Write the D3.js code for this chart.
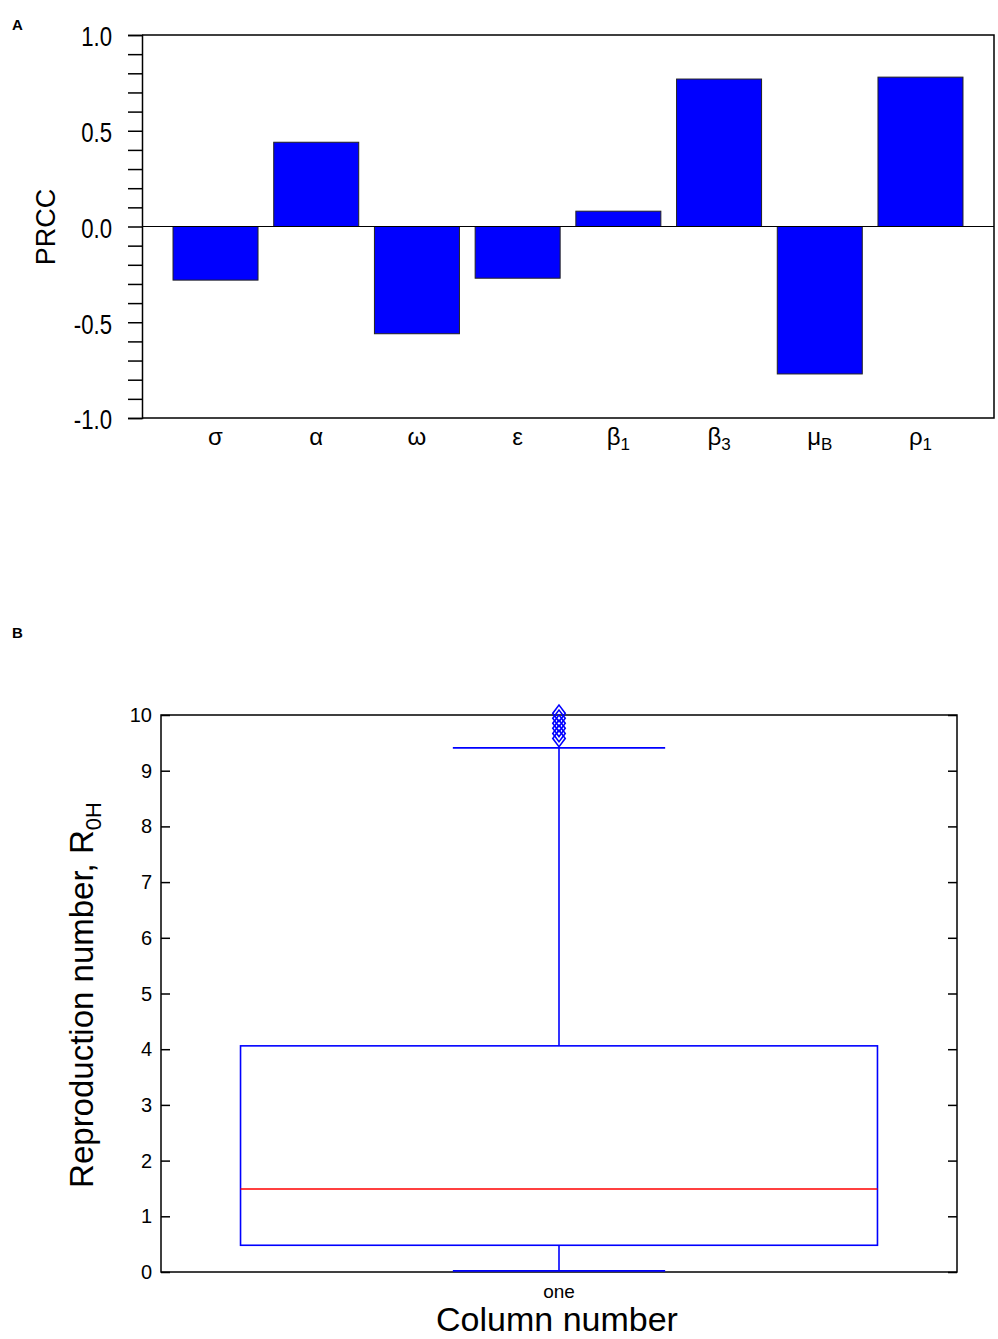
<!DOCTYPE html>
<html>

<head>
  <meta charset="utf-8" />
  <title>PRCC and R0H</title>
  <style>
    body {
      margin: 0;
      background: #fff;
    }

    svg text {
      font-family: Arial, "Liberation Sans", sans-serif;
      fill: #000;
    }
  </style>
  <script src="https://cdnjs.cloudflare.com/ajax/libs/d3/7.8.5/d3.min.js"></script>
</head>

<body>
  <div id="chartArea"></div>
  <script>
    // panel A: PRCC values
    var params = ['σ', 'α', 'ω', 'ε', 'β', 'β', 'μ', 'ρ'];
    var paramSubs = ['', '', '', '', '1', '3', 'B', '1'];
    var prcc = [-0.28, 0.44, -0.56, -0.27, 0.08, 0.77, -0.77, 0.78];
    var prccTicks = [-1.0, -0.5, 0.0, 0.5, 1.0];

    // panel B: box plot of R0H
    var boxCategory = ['one'];
    var boxStats = [0.02, 0.48, 1.49, 4.06, 9.41]; // lower whisker, q1, median, q3, upper whisker
    var outliers = [9.58, 9.67, 9.76, 9.85, 9.94, 10.03];
    var r0Ticks = [0, 1, 2, 3, 4, 5, 6, 7, 8, 9, 10];

    var w = 998,
      h = 1339;

    var svg = d3.select('#chartArea').append('svg')
      .attr('width', w)
      .attr('height', h);

    // ---------- panel A ----------
    var a = { left: 142, right: 994, top: 35, bottom: 418 };

    var xA = d3.scaleBand()
      .domain(d3.range(params.length))
      .range([a.left, a.right])
      .paddingInner(0.156)
      .paddingOuter(0.308);

    var yA = d3.scaleLinear()
      .domain([-1, 1])
      .range([a.bottom, a.top]);

    svg.append('text')
      .attr('x', 12)
      .attr('y', 30)
      .style('font-weight', 'bold')
      .style('font-size', '15px')
      .text('A');

    // frame
    svg.append('path')
      .attr('d', 'M' + a.left + ',' + a.top + 'H' + a.right + 'V' + a.bottom + 'H' + a.left)
      .attr('fill', 'none')
      .attr('stroke', '#000')
      .attr('stroke-width', 1.5);

    svg.selectAll('rect.bar')
      .data(prcc)
      .enter()
      .append('rect')
      .attr('class', 'bar')
      .attr('x', (d, i) => xA(i))
      .attr('y', d => yA(Math.max(0, d)))
      .attr('width', xA.bandwidth())
      .attr('height', d => Math.abs(yA(d) - yA(0)))
      .attr('fill', '#0000ff')
      .attr('stroke', '#222')
      .attr('stroke-width', 1);

    // zero line
    svg.append('line')
      .attr('x1', a.left)
      .attr('x2', a.right)
      .attr('y1', yA(0))
      .attr('y2', yA(0))
      .attr('stroke', '#000')
      .attr('stroke-width', 1.2);

    var fmt = d => d3.format('.1f')(d).replace('−', '-');
    var yAxisA = d3.axisLeft(yA)
      .tickValues(d3.range(-10, 11).map(v => v / 10))
      .tickSize(14)
      .tickPadding(16)
      .tickFormat(d => prccTicks.some(t => Math.abs(t - d) < 1e-9) ? fmt(d) : '');

    var gA = svg.append('g')
      .attr('transform', 'translate(' + a.left + ',0)')
      .call(yAxisA);
    gA.select('.domain').attr('stroke-width', 1.5);
    gA.selectAll('.tick line').attr('stroke-width', 1.5);
    gA.selectAll('.tick text')
      .attr('dy', '0.4em')
      .style('font-size', '27px')
      .style('font-family', 'Arial, "Liberation Sans", sans-serif');
    // condensed look of the original tick labels
    gA.selectAll('.tick text').each(function () {
      var t = d3.select(this);
      if (!t.text()) return;
      var len = this.getComputedTextLength();
      t.attr('textLength', len * 0.82).attr('lengthAdjust', 'spacingAndGlyphs');
    });

    // x labels
    var lab = svg.selectAll('text.cat')
      .data(params)
      .enter()
      .append('text')
      .attr('class', 'cat')
      .attr('x', (d, i) => xA(i) + xA.bandwidth() / 2)
      .attr('y', 445)
      .attr('text-anchor', 'middle')
      .style('font-size', '24px');
    lab.append('tspan').text(d => d);
    lab.append('tspan')
      .attr('dy', 5)
      .style('font-size', '17px')
      .text((d, i) => paramSubs[i]);

    svg.append('text')
      .attr('transform', 'translate(55,227) rotate(-90)')
      .attr('text-anchor', 'middle')
      .style('font-size', '27px')
      .text('PRCC');

    // ---------- panel B ----------
    var b = { left: 161, right: 957, top: 715, bottom: 1272 };

    var xB = d3.scaleBand()
      .domain(boxCategory)
      .range([b.left, b.right])
      .padding(0.111);

    var yB = d3.scaleLinear()
      .domain([0, 10])
      .range([b.bottom, b.top]);

    svg.append('text')
      .attr('x', 12)
      .attr('y', 638)
      .style('font-weight', 'bold')
      .style('font-size', '15px')
      .text('B');

    svg.append('rect')
      .attr('x', b.left)
      .attr('y', b.top)
      .attr('width', b.right - b.left)
      .attr('height', b.bottom - b.top)
      .attr('fill', 'none')
      .attr('stroke', '#000')
      .attr('stroke-width', 1.5);

    var gBL = svg.append('g')
      .attr('transform', 'translate(' + b.left + ',0)')
      .call(d3.axisRight(yB).tickValues(r0Ticks).tickSize(9).tickFormat(''));
    gBL.select('.domain').remove();

    var gBR = svg.append('g')
      .attr('transform', 'translate(' + b.right + ',0)')
      .call(d3.axisLeft(yB).tickValues(r0Ticks).tickSize(9).tickFormat(''));
    gBR.select('.domain').remove();
    gBL.selectAll('.tick line').attr('stroke-width', 1.5);
    gBR.selectAll('.tick line').attr('stroke-width', 1.5);

    svg.selectAll('text.r0tick')
      .data(r0Ticks)
      .enter()
      .append('text')
      .attr('class', 'r0tick')
      .attr('x', b.left - 9)
      .attr('y', d => yB(d) + 7)
      .attr('text-anchor', 'end')
      .style('font-size', '20px')
      .text(d => d);

    var cx = xB('one') + xB.bandwidth() / 2;
    var bw = xB.bandwidth();
    var capW = bw / 3;
    var blue = '#0000ff';

    var gBox = svg.append('g')
      .attr('fill', 'none')
      .attr('stroke', blue)
      .attr('stroke-width', 1.6);

    // whiskers
    gBox.append('line')
      .attr('x1', cx).attr('x2', cx)
      .attr('y1', yB(boxStats[3])).attr('y2', yB(boxStats[4]));
    gBox.append('line')
      .attr('x1', cx).attr('x2', cx)
      .attr('y1', yB(boxStats[1])).attr('y2', yB(boxStats[0]));
    gBox.selectAll('line.cap')
      .data([boxStats[0], boxStats[4]])
      .enter()
      .append('line')
      .attr('class', 'cap')
      .attr('x1', cx - capW / 2).attr('x2', cx + capW / 2)
      .attr('y1', d => yB(d)).attr('y2', d => yB(d));

    // box
    gBox.append('rect')
      .attr('x', xB('one'))
      .attr('y', yB(boxStats[3]))
      .attr('width', bw)
      .attr('height', yB(boxStats[1]) - yB(boxStats[3]));

    // median
    svg.append('line')
      .attr('x1', xB('one')).attr('x2', xB('one') + bw)
      .attr('y1', yB(boxStats[2])).attr('y2', yB(boxStats[2]))
      .attr('stroke', '#ff0000')
      .attr('stroke-width', 1.3);

    // outliers
    var diamond = d3.symbol().type(d3.symbolDiamond).size(80);
    svg.selectAll('path.outlier')
      .data(outliers)
      .enter()
      .append('path')
      .attr('class', 'outlier')
      .attr('d', diamond)
      .attr('transform', d => 'translate(' + cx + ',' + yB(d) + ') scale(1.3,1)')
      .attr('fill', 'none')
      .attr('stroke', blue)
      .attr('stroke-width', 1.3);

    // labels
    svg.append('text')
      .attr('x', cx)
      .attr('y', 1298)
      .attr('text-anchor', 'middle')
      .style('font-size', '19px')
      .text(boxCategory[0]);

    svg.append('text')
      .attr('x', cx - 2)
      .attr('y', 1331)
      .attr('text-anchor', 'middle')
      .style('font-size', '34px')
      .text('Column number');

    var yl = svg.append('text')
      .attr('transform', 'translate(93,995) rotate(-90)')
      .attr('text-anchor', 'middle')
      .style('font-size', '33px');
    yl.append('tspan').text('Reproduction number, R');
    yl.append('tspan')
      .attr('dy', 8)
      .style('font-size', '22px')
      .text('0H');
  </script>
</body>

</html>
